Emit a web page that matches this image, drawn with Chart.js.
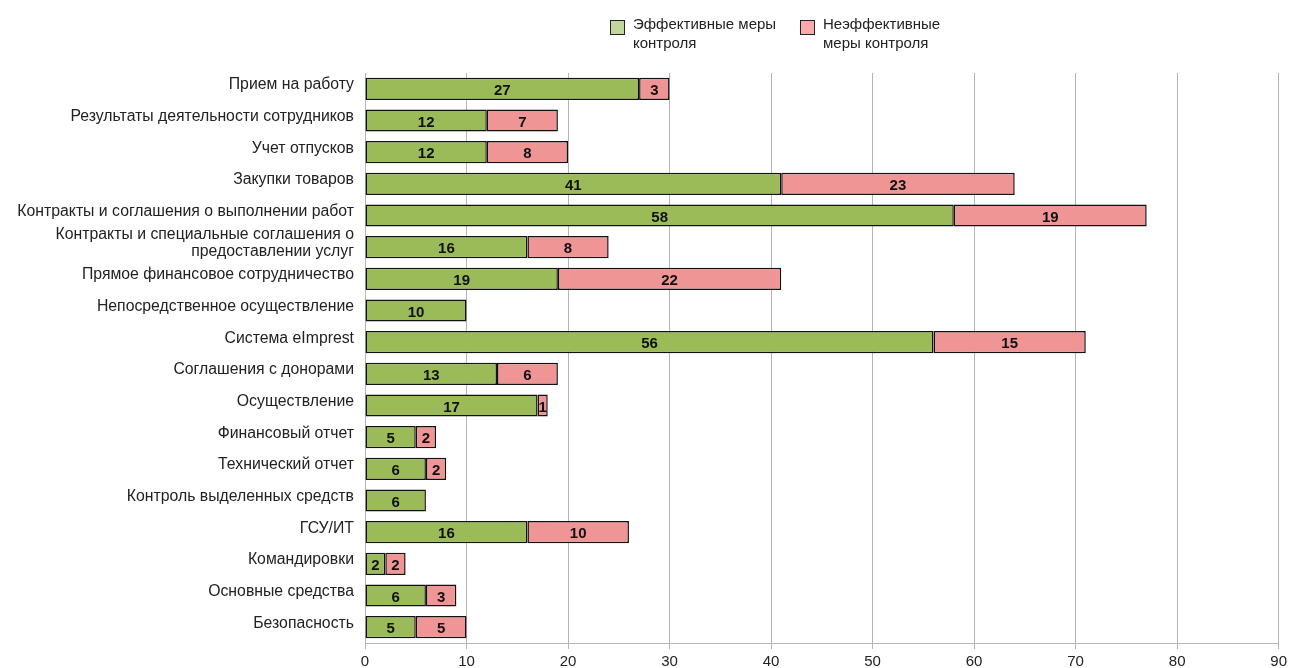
<!DOCTYPE html>
<html>
<head>
<meta charset="utf-8">
<script src="https://cdn.jsdelivr.net/npm/chart.js@4"></script>
<style>
  body { margin: 0; background: #fff; font-family: "Liberation Sans", Arial, sans-serif; }
  #wrap { position: relative; width: 1291px; height: 668px; }
  .legend { position: absolute; top: 14px; font-size: 15px; line-height: 19px; color: #222; }
  .legend .box { position: absolute; left: 0; top: 6px; width: 13px; height: 13px; border: 1px solid #222; }
  .legend .txt { position: absolute; left: 23px; top: 0; white-space: nowrap; }
</style>
</head>
<body>
<div id="wrap">
  <canvas id="chart" width="1291" height="668"></canvas>
  <div class="legend" style="left:610px"><div class="box" style="background:#c4d79b"></div><div class="txt">Эффективные меры<br>контроля</div></div>
  <div class="legend" style="left:800px"><div class="box" style="background:#fba9a9"></div><div class="txt">Неэффективные<br>меры контроля</div></div>
</div>
<script>
const categories = [
  "Прием на работу",
  "Результаты деятельности сотрудников",
  "Учет отпусков",
  "Закупки товаров",
  "Контракты и соглашения о выполнении работ",
  ["Контракты и специальные соглашения о", "предоставлении услуг"],
  "Прямое финансовое сотрудничество",
  "Непосредственное осуществление",
  "Система eImprest",
  "Соглашения с донорами",
  "Осуществление",
  "Финансовый отчет",
  "Технический отчет",
  "Контроль выделенных средств",
  "ГСУ/ИТ",
  "Командировки",
  "Основные средства",
  "Безопасность"
];
const effective = [27, 12, 12, 41, 58, 16, 19, 10, 56, 13, 17, 5, 6, 6, 16, 2, 6, 5];
const ineffective = [3, 7, 8, 23, 19, 8, 22, 0, 15, 6, 1, 2, 2, 0, 10, 2, 3, 5];
const seriesNames = ["Эффективные меры контроля", "Неэффективные меры контроля"];

// values written in the middle of each segment
const barValues = {
  id: "barValues",
  afterDatasetsDraw(chart) {
    const ctx = chart.ctx;
    ctx.save();
    ctx.font = "bold 15px 'Liberation Sans', Arial, sans-serif";
    ctx.fillStyle = "#111";
    ctx.textAlign = "center";
    ctx.textBaseline = "middle";
    chart.data.datasets.forEach((ds, i) => {
      chart.getDatasetMeta(i).data.forEach((bar, j) => {
        const v = ds.data[j];
        if (!v) return;
        ctx.fillText(v, (bar.x + bar.base) / 2, bar.y + 2);
      });
    });
    ctx.restore();
  }
};

Chart.defaults.font.family = "'Liberation Sans', Arial, sans-serif";
Chart.defaults.font.size = 14;
Chart.defaults.color = "#222";

new Chart(document.getElementById("chart").getContext("2d"), {
  type: "bar",
  data: {
    labels: categories,
    datasets: [
      {
        label: seriesNames[0],
        data: effective,
        backgroundColor: "#9bbb59",
        borderColor: "#111",
        borderWidth: 1.5,
        borderSkipped: false,
        categoryPercentage: 1,
        barPercentage: 0.7,
      },
      {
        label: seriesNames[1],
        data: ineffective,
        backgroundColor: "#f09595",
        borderColor: "#111",
        borderWidth: 1.5,
        borderSkipped: false,
        categoryPercentage: 1,
        barPercentage: 0.7,
      },
    ],
  },
  options: {
    indexAxis: "y",
    responsive: false,
    animation: false,
    layout: { padding: { top: 73, right: 12, left: 0, bottom: 0 } },
    scales: {
      x: {
        stacked: true,
        min: 0,
        max: 90,
        ticks: { stepSize: 10, padding: 4, color: "#222", font: { size: 15 } },
        grid: { color: "#b5b5b5", tickLength: 6, lineWidth: 1 },
        border: { color: "#b5b5b5" },
        afterFit(scale) { scale.height = 25; },
      },
      y: {
        stacked: true,
        ticks: { padding: 11, color: "#222", autoSkip: false, labelOffset: -4, font: { size: 15.8, lineHeight: 1.1 } },
        grid: { display: false, drawTicks: false },
        border: { color: "#b5b5b5" },
        afterFit(scale) { scale.width = 365; },
      },
    },
    plugins: {
      legend: { display: false },
      tooltip: { enabled: false },
    },
  },
  plugins: [barValues],
});
</script>
</body>
</html>
